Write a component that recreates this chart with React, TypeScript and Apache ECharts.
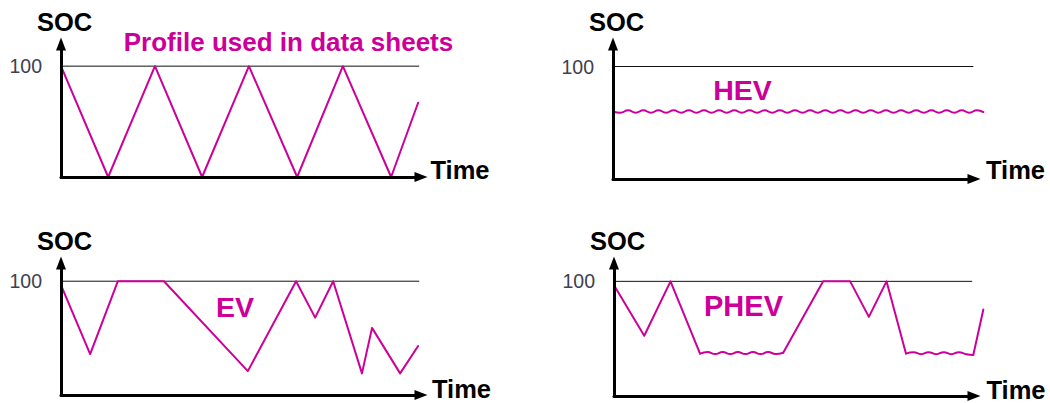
import React, { useEffect, useRef } from "react";
import * as echarts from "echarts";

const MAGENTA = "#CC0099";
const FONT = 'Arial, "Liberation Sans", sans-serif';

// Panel titles
const PANEL_TITLES = ["Profile used in data sheets", "HEV", "EV", "PHEV"];
const Y_AXIS_NAME = "SOC";
const X_AXIS_NAME = "Time";
const FULL_LABEL = 100;

// Reference "100" level (end time per panel)
const FULL_LEVEL_END = [99.4, 99.7, 99.4, 99.4];

// Top-left: profile used in data sheets
const PROFILE_TIME = [0, 13.1, 26.1, 39.2, 52.2, 65.6, 78.3, 91.7, 99.2];
const PROFILE_SOC = [100, 0, 100, 0, 100, 0, 100, 0, 67];

// Top-right: HEV (small ripple around a constant level)
const HEV_TIME = [
  0, 2.1, 4.2, 6.3, 8.4, 10.5, 12.6, 14.7, 16.8, 18.9,
  21, 23.1, 25.2, 27.3, 29.4, 31.5, 33.6, 35.7, 37.8, 39.9,
  42, 44.1, 46.2, 48.3, 50.4, 52.5, 54.6, 56.7, 58.8, 60.9,
  63, 65.1, 67.2, 69.3, 71.4, 73.5, 75.6, 77.7, 79.8, 81.9,
  84, 86.1, 88.2, 90.3, 92.4, 94.5, 96.6, 98.7, 100.8, 102.6,
];
const HEV_SOC = [
  60, 58.9, 61.1, 58.9, 61.1, 58.9, 61.1, 58.9, 61.1, 58.9,
  61.1, 58.9, 61.1, 58.9, 61.1, 58.9, 61.1, 58.9, 61.1, 58.9,
  61.1, 58.9, 61.1, 58.9, 61.1, 58.9, 61.1, 58.9, 61.1, 58.9,
  61.1, 58.9, 61.1, 58.9, 61.1, 58.9, 61.1, 58.9, 61.1, 58.9,
  61.1, 58.9, 61.1, 58.9, 61.1, 58.9, 61.1, 58.9, 61.1, 59.5,
];

// Bottom-left: EV
const EV_TIME = [0, 8.1, 15.8, 28.6, 51.9, 65.3, 70.6, 75.6, 83.6, 86.4, 94.2, 99.2];
const EV_SOC = [96.5, 36, 100, 100, 21, 100, 68, 100, 19, 59, 19, 43];

// Bottom-right: PHEV (sharp segments + rippled charge-sustaining parts)
const PHEV_TIME_A = [0, 8.4, 15.7, 23.9];
const PHEV_SOC_A = [96.5, 52.5, 100, 37];
const PHEV_WAVE1_TIME = [23.9, 26.0, 28.1, 30.2, 32.3, 34.4, 36.5, 38.6, 40.7, 42.8, 44.9, 47.0];
const PHEV_WAVE1_SOC = [37, 38.4, 36.6, 38.4, 36.6, 38.4, 36.6, 38.4, 36.6, 38.4, 36.6, 37.7];
const PHEV_TIME_B = [47.0, 58.1, 65.6, 70.8, 75.7, 81.1];
const PHEV_SOC_B = [37.7, 100, 100, 69, 100, 37];
const PHEV_WAVE2_TIME = [81.1, 83.2, 85.3, 87.4, 89.5, 91.6, 93.7, 95.8, 97.9, 99.8];
const PHEV_WAVE2_SOC = [37, 38.2, 36.4, 38.2, 36.4, 38.2, 36.4, 38.2, 36.4, 35.7];
const PHEV_TIME_C = [99.8, 102.6];
const PHEV_SOC_C = [35.7, 75.4];

// Layout (pixels)
const GRIDS = [
  { left: 61, top: 44, width: 360, height: 133 },
  { left: 613, top: 44, width: 361, height: 135 },
  { left: 61, top: 263, width: 360, height: 132 },
  { left: 614, top: 263, width: 360, height: 133 },
];
const X_MAX = 100;
const X_MAX_DATA = 105; // data grids reach a little past the arrow
const Y_MAX = [120, 120, 116, 116];
const TIME_GAP = [9.5, 12, 11, 12.5];
const TIME_LIFT = [15, 19, 13, 13];
const TITLE_POS = [
  { x: 288.5, y: 42, size: 26 },
  { x: 742.5, y: 90, size: 28.5 },
  { x: 235, y: 307, size: 28.5 },
  { x: 743.5, y: 306, size: 29 },
];

const pairs = (t: number[], v: number[]) => t.map((x, i) => [x, v[i]]);

function line(idx: number, t: number[], v: number[], smooth = false, color = MAGENTA, width = 2) {
  return {
    type: "line",
    xAxisIndex: idx,
    yAxisIndex: idx,
    data: pairs(t, v),
    symbol: "none",
    smooth,
    clip: false,
    silent: true,
    lineStyle: { color, width, cap: "round", join: "round" },
    z: color === MAGENTA ? 3 : 2,
  };
}

export default function App() {
  const ref = useRef<HTMLDivElement>(null);
  useEffect(() => {
    if (!ref.current) return;
    const chart = echarts.init(ref.current, undefined, { renderer: "svg" });

    // visible grids 0..3, data grids 4..7 (same scale, a bit wider)
    const dataGrids = GRIDS.map((g) => ({
      ...g,
      width: (g.width * X_MAX_DATA) / X_MAX,
    }));

    const visibleX = GRIDS.map((_, i) => ({
      type: "value",
      gridIndex: i,
      min: 0,
      max: X_MAX,
      name: X_AXIS_NAME,
      nameLocation: "end",
      nameGap: TIME_GAP[i],
      nameTextStyle: {
        fontFamily: FONT,
        fontSize: 25.5,
        fontWeight: "bold",
        color: "#000",
        verticalAlign: "bottom",
        lineHeight: TIME_LIFT[i],
      },
      axisLine: {
        show: true,
        symbol: ["none", "triangle"],
        symbolSize: [10, 13],
        lineStyle: { color: "#000", width: 3 },
      },
      axisTick: { show: false },
      axisLabel: { show: false },
      splitLine: { show: false },
      z: 4,
    }));

    const visibleY = GRIDS.map((_, i) => ({
      type: "value",
      gridIndex: i,
      min: 0,
      max: Y_MAX[i],
      interval: 20,
      name: Y_AXIS_NAME,
      nameLocation: "end",
      nameGap: 9,
      nameTextStyle: {
        fontFamily: FONT,
        fontSize: 25.5,
        fontWeight: "bold",
        color: "#000",
        padding: [0, 0, 0, 7],
      },
      axisLine: {
        show: true,
        symbol: ["none", "triangle"],
        symbolSize: [10, 13],
        lineStyle: { color: "#000", width: 3 },
      },
      axisTick: { show: false },
      axisLabel: {
        show: true,
        margin: 19,
        fontFamily: FONT,
        fontSize: 19.5,
        color: "#404050",
        formatter: (v: number) => (v === FULL_LABEL ? String(FULL_LABEL) : ""),
      },
      splitLine: { show: false },
      z: 4,
    }));

    const dataX = GRIDS.map((_, i) => ({
      type: "value",
      gridIndex: 4 + i,
      min: 0,
      max: X_MAX_DATA,
      show: false,
    }));
    const dataY = GRIDS.map((_, i) => ({
      type: "value",
      gridIndex: 4 + i,
      min: 0,
      max: Y_MAX[i],
      show: false,
    }));

    const series: any[] = [];
    GRIDS.forEach((_, i) => {
      series.push(line(i, [0, FULL_LEVEL_END[i]], [FULL_LABEL, FULL_LABEL], false, "#111", 1));
    });
    series.push(line(4, PROFILE_TIME, PROFILE_SOC));
    series.push(line(5, HEV_TIME, HEV_SOC, true));
    series.push(line(6, EV_TIME, EV_SOC));
    series.push(line(7, PHEV_TIME_A, PHEV_SOC_A));
    series.push(line(7, PHEV_WAVE1_TIME, PHEV_WAVE1_SOC, true));
    series.push(line(7, PHEV_TIME_B, PHEV_SOC_B));
    series.push(line(7, PHEV_WAVE2_TIME, PHEV_WAVE2_SOC, true));
    series.push(line(7, PHEV_TIME_C, PHEV_SOC_C));

    chart.setOption({
      animation: false,
      backgroundColor: "#fff",
      textStyle: { fontFamily: FONT },
      title: PANEL_TITLES.map((text, i) => ({
        text,
        left: TITLE_POS[i].x,
        top: TITLE_POS[i].y,
        textAlign: "center",
        textVerticalAlign: "middle",
        padding: 0,
        textStyle: {
          color: MAGENTA,
          fontFamily: FONT,
          fontSize: TITLE_POS[i].size,
          fontWeight: "bold",
        },
      })),
      grid: [...GRIDS, ...dataGrids].map((g) => ({ ...g, containLabel: false })),
      xAxis: [...visibleX, ...dataX],
      yAxis: [...visibleY, ...dataY],
      series,
    });
    return () => chart.dispose();
  }, []);

  return (
    <div
      ref={ref}
      style={{ position: "absolute", left: 0, top: 0, width: 1050, height: 403, background: "#fff" }}
    />
  );
}
